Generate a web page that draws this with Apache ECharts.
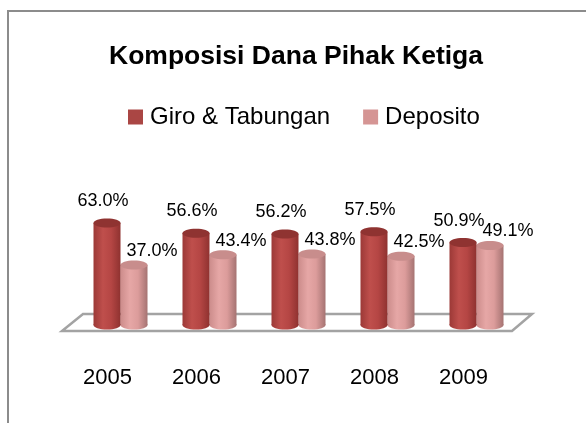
<!DOCTYPE html>
<html>
<head>
<meta charset="utf-8">
<script src="https://cdn.jsdelivr.net/npm/echarts@6/dist/echarts.min.js"></script>
<style>
  html, body { margin: 0; padding: 0; background: #fff; }
  #main { width: 586px; height: 423px; }
</style>
</head>
<body>
<div id="main"></div>
<script>
// data
const years = ["2005", "2006", "2007", "2008", "2009"];
const giroTabungan = [63.0, 56.6, 56.2, 57.5, 50.9];
const deposito = [37.0, 43.4, 43.8, 42.5, 49.1];

const FONT = "Liberation Sans";

// cylinder drawn by custom series; side: -1 = left half of the band, 1 = right half
function cylinder(side, c, labelDx, labelDy) {
  return function (params, api) {
    const i = api.value(0);
    const top = api.coord([i, api.value(1)]);
    const base = api.coord([i, 0]);
    const w = 27;
    const x = side < 0 ? top[0] - w + 1 : top[0] + 1;
    const rx = w / 2, ry = 4.5;
    const cx = x + rx;
    const grad = new echarts.graphic.LinearGradient(0, 0, 1, 0, [
      { offset: 0, color: c[0] },
      { offset: 0.35, color: c[1] },
      { offset: 0.65, color: c[2] },
      { offset: 1, color: c[3] }
    ]);
    return {
      type: "group",
      children: [
        { type: "ellipse", shape: { cx: cx, cy: base[1], rx: rx, ry: ry }, style: { fill: grad } },
        { type: "rect", shape: { x: x, y: top[1], width: w, height: base[1] - top[1] }, style: { fill: grad } },
        { type: "ellipse", shape: { cx: cx, cy: top[1], rx: rx, ry: ry }, style: { fill: c[4] } },
        {
          type: "text",
          x: cx + labelDx,
          y: top[1] - labelDy,
          style: {
            text: api.value(1).toFixed(1) + "%",
            fill: "#000",
            font: "18px '" + FONT + "'",
            align: "center",
            verticalAlign: "middle"
          }
        }
      ]
    };
  };
}

const chart = echarts.init(document.getElementById("main"));

const option = {
  backgroundColor: "#fff",
  animation: false,
  title: {
    text: "Komposisi Dana Pihak Ketiga",
    left: 104,
    top: 38,
    textStyle: { fontFamily: FONT, fontSize: 26.5, fontWeight: "bold", color: "#000" }
  },
  legend: {
    top: 100,
    left: 123,
    itemWidth: 15,
    itemHeight: 15,
    itemGap: 33,
    icon: "rect",
    textStyle: { fontFamily: FONT, fontSize: 24, color: "#000", padding: [0, 0, 0, 2] },
    data: ["Giro & Tabungan", "Deposito"]
  },
  grid: { left: 75, right: 66, top: 163, bottom: 98 },
  xAxis: {
    type: "category",
    data: years,
    axisLine: { show: false },
    axisTick: { show: false },
    axisLabel: {
      margin: 42,
      fontFamily: FONT,
      fontSize: 22,
      color: "#000",
      padding: [0, 24, 0, 0]
    }
  },
  yAxis: {
    type: "value",
    min: 0,
    max: 100,
    show: false
  },
  graphic: [
    {
      type: "rect",
      z: 0,
      shape: { x: 8, y: 11, width: 620, height: 460 },
      style: { fill: null, stroke: "#8c8c8c", lineWidth: 2 }
    },
    {
      type: "polygon",
      z: 0,
      shape: { points: [[83, 314], [532, 314], [512, 331], [62, 331]] },
      style: { fill: "#fff", stroke: "#a3a3a3", lineWidth: 2.5 }
    }
  ],
  series: [
    {
      name: "Giro & Tabungan",
      type: "custom",
      z: 3,
      itemStyle: { color: "#aa4644" },
      renderItem: cylinder(-1, ["#9c3937", "#bf4f4c", "#b54644", "#8f3230", "#8f3331"], -4, 22),
      encode: { x: 0, y: 1 },
      data: giroTabungan.map((v, i) => [i, v])
    },
    {
      name: "Deposito",
      type: "custom",
      z: 2,
      itemStyle: { color: "#d59594" },
      renderItem: cylinder(1, ["#cc8c8b", "#e6a7a6", "#dc9c9b", "#a57372", "#c88d8c"], 18, 14),
      encode: { x: 0, y: 1 },
      data: deposito.map((v, i) => [i, v])
    }
  ]
};

chart.setOption(option);
</script>
</body>
</html>
